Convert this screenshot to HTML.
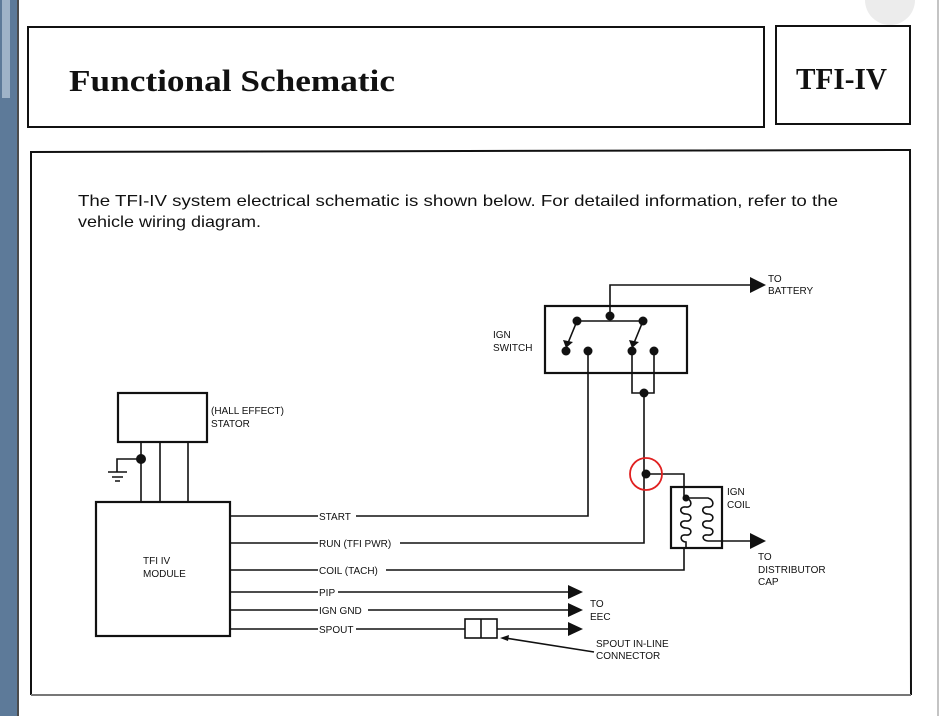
<!DOCTYPE html>
<html><head><meta charset="utf-8"><style>
html,body{margin:0;padding:0;background:#fff;}
svg{display:block;}
.t{font-family:"Liberation Sans",sans-serif;font-size:10px;fill:#111;}
</style></head><body>
<svg width="943" height="716" viewBox="0 0 943 716" xmlns="http://www.w3.org/2000/svg">
<rect x="0" y="0" width="17" height="716" fill="#5d7a99"/>
<rect x="2" y="0" width="8" height="98" fill="#9fb3c8"/>
<line x1="18" y1="0" x2="18" y2="716" stroke="#111" stroke-width="1.5"/>
<line x1="938" y1="0" x2="938" y2="716" stroke="#888" stroke-width="1"/>
<circle cx="890" cy="0" r="25" fill="#ececec"/>
<g fill="none" stroke="#111" stroke-width="2">
<rect x="28" y="27" width="736" height="100"/>
<rect x="776" y="26" width="134" height="98"/>
<path d="M31 695 L31 152 L910 150 L911 695"/>
</g>
<line x1="31" y1="695" x2="911" y2="695" stroke="#777" stroke-width="2"/>
<text x="69" y="91" font-family="Liberation Serif,serif" font-weight="bold" font-size="31" fill="#111" textLength="326" lengthAdjust="spacingAndGlyphs">Functional  Schematic</text>
<text x="796" y="89" font-family="Liberation Serif,serif" font-weight="bold" font-size="31" fill="#111" textLength="91" lengthAdjust="spacingAndGlyphs">TFI-IV</text>
<text x="78" y="206" font-family="Liberation Sans,sans-serif" font-size="16" fill="#111" textLength="760" lengthAdjust="spacingAndGlyphs">The TFI-IV system electrical schematic is shown below. For detailed information, refer to the</text>
<text x="78" y="227" font-family="Liberation Sans,sans-serif" font-size="16" fill="#111" textLength="183" lengthAdjust="spacingAndGlyphs">vehicle wiring diagram.</text>

<g fill="none" stroke="#111" stroke-width="1.6">
<rect x="545" y="306" width="142" height="67" stroke-width="2.2"/>
<rect x="118" y="393" width="89" height="49" stroke-width="2.2"/>
<rect x="96" y="502" width="134" height="134" stroke-width="2.2"/>
<rect x="671" y="487" width="51" height="61" stroke-width="2.2"/>
<path d="M610 316 L610 285 L752 285"/>
<path d="M577 321 L643 321"/>
<path d="M577 321 L568 343"/>
<path d="M643 321 L634 343"/>
<path d="M588 351 L588 516 L230 516"/>
<path d="M632 351 L632 393 L654 393 L654 351"/>
<path d="M644 393 L644 543 L230 543"/>
<path d="M646 474 L684 474 L684 498"/>
<path d="M684 548 L684 570 L230 570"/>
<path d="M141 442 L141 502 M160 442 L160 502 M188 442 L188 502"/>
<path d="M141 459 L117 459 L117 472"/>
<path d="M108 472 L127 472 M112 477 L123 477 M115 481 L120 481"/>
<path d="M230 592 L570 592 M230 610 L570 610 M230 629 L465 629 M497 629 L570 629"/>
<rect x="465" y="619" width="32" height="19"/>
<path d="M481 619 L481 638"/>
<path d="M594 652 L505 638"/>
<path d="M686 498 C693 500 692 508 686 507 C679 506 679 514 686 514 C693 514 692 522 686 521 C679 520 679 528 686 528 C693 528 692 536 686 535 C679 534 680 542 686 542 L686 548"/>
<path d="M686 498 L708 498 C715 500 714 508 708 507 C701 506 701 514 708 514 C715 514 714 522 708 521 C701 520 701 528 708 528 C715 528 714 536 708 535 C701 534 702 541 708 541 L752 541"/>
</g>
<g fill="#111">
<circle cx="577" cy="321" r="4.5"/><circle cx="610" cy="316" r="4.5"/><circle cx="643" cy="321" r="4.5"/>
<circle cx="566" cy="351" r="4.5"/><circle cx="588" cy="351" r="4.5"/><circle cx="632" cy="351" r="4.5"/><circle cx="654" cy="351" r="4.5"/>
<circle cx="644" cy="393" r="4.5"/><circle cx="646" cy="474" r="4.5"/><circle cx="686" cy="498" r="3.5"/>
<circle cx="141" cy="459" r="5"/>
<polygon points="563,340 573,342 566,348"/><polygon points="629,340 639,342 632,348"/>
<polygon points="750,277 766,285 750,293"/>
<polygon points="750,533 766,541 750,549"/>
<polygon points="568,585 583,592 568,599"/>
<polygon points="568,603 583,610 568,617"/>
<polygon points="568,622 583,629 568,636"/>
<polygon points="500,638 509,635 508,641"/>
</g>
<circle cx="646" cy="474" r="16" fill="none" stroke="#e02020" stroke-width="1.8"/>
<rect x="318" y="510" width="38" height="12" fill="#fff"/>
<rect x="318" y="537" width="82" height="12" fill="#fff"/>
<rect x="318" y="564" width="68" height="12" fill="#fff"/>
<rect x="318" y="586" width="20" height="12" fill="#fff"/>
<rect x="318" y="604" width="50" height="12" fill="#fff"/>
<rect x="318" y="623" width="38" height="12" fill="#fff"/>
<g class="t">
<text x="768" y="282">TO</text><text x="768" y="294">BATTERY</text>
<text x="493" y="338">IGN</text><text x="493" y="351">SWITCH</text>
<text x="211" y="414">(HALL EFFECT)</text><text x="211" y="427">STATOR</text>
<text x="727" y="495">IGN</text><text x="727" y="508">COIL</text>
<text x="758" y="560">TO</text><text x="758" y="573">DISTRIBUTOR</text><text x="758" y="585">CAP</text>
<text x="143" y="564">TFI IV</text><text x="143" y="577">MODULE</text>
<text x="319" y="520">START</text>
<text x="319" y="547">RUN (TFI PWR)</text>
<text x="319" y="574">COIL (TACH)</text>
<text x="319" y="596">PIP</text>
<text x="319" y="614">IGN GND</text>
<text x="319" y="633">SPOUT</text>
<text x="590" y="607">TO</text><text x="590" y="620">EEC</text>
<text x="596" y="647">SPOUT IN-LINE</text><text x="596" y="659">CONNECTOR</text>
</g>
</svg>
</body></html>
